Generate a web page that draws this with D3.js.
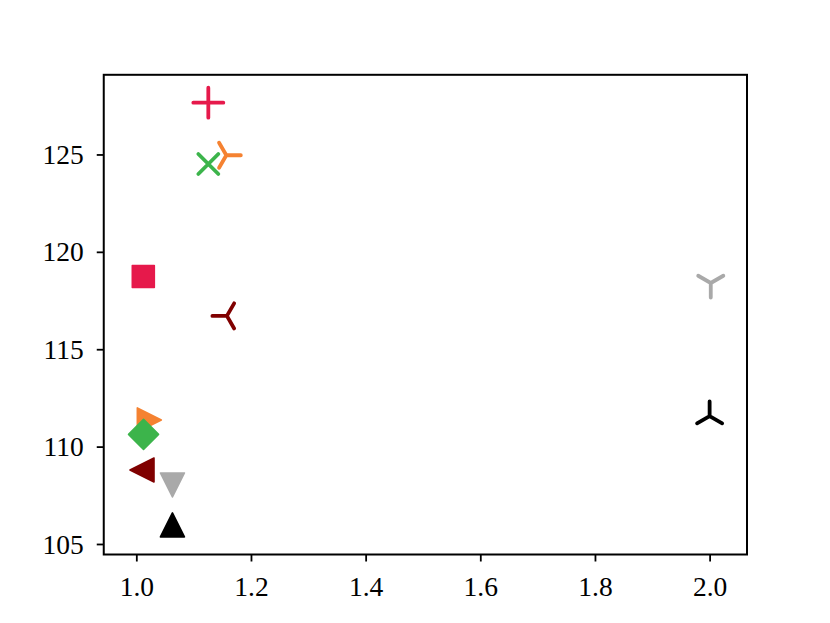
<!DOCTYPE html>
<html>
<head>
<meta charset="utf-8">
<script src="https://cdn.jsdelivr.net/npm/d3@7"></script>
<style>
  html, body { margin: 0; padding: 0; background: #fff; }
  svg { display: block; }
  .tick text { font-family: "Liberation Serif", "DejaVu Serif", serif; }
</style>
</head>
<body>
<svg id="chart" width="830" height="623"></svg>
<script>
// ---- data ----
const xValues = [1.1256, 1.0122, 1.157, 1.0227, 1.1256, 1.0126, 1.158, 1.0099, 2.002, 1.063, 2.0, 1.063];
const yValues = [127.66, 118.73, 124.96, 111.37, 124.51, 110.63, 116.71, 108.80, 118.40, 108.03, 111.57, 105.98];
const markers = ["plus", "square", "tri_right", "triangle_right", "x", "diamond", "tri_left", "triangle_left", "tri_down", "triangle_down", "tri_up", "triangle_up"];
const colors  = ["#e6194b", "#e6194b", "#f58231", "#f58231", "#3cb44b", "#3cb44b", "#800000", "#800000", "#a9a9a9", "#a9a9a9", "#000000", "#000000"];
const xTicks = [1.0, 1.2, 1.4, 1.6, 1.8, 2.0];
const yTicks = [105, 110, 115, 120, 125];
const xDomain = [0.9432, 2.0652];
const yDomain = [104.46, 129.09];

// ---- layout ----
const L = 103.75, R = 747, T = 74.8, B = 554.5;
const svg = d3.select("#chart");
const x = d3.scaleLinear().domain(xDomain).range([L, R]);
const y = d3.scaleLinear().domain(yDomain).range([B, T]);

// axes
const xAxis = d3.axisBottom(x).tickValues(xTicks).tickFormat(d3.format(".1f")).tickSize(7).tickPadding(8);
const yAxis = d3.axisLeft(y).tickValues(yTicks).tickFormat(d3.format("d")).tickSize(7).tickPadding(13);

const gx = svg.append("g").attr("transform", `translate(0,${B})`).call(xAxis);
const gy = svg.append("g").attr("transform", `translate(${L},0)`).call(yAxis);
[gx, gy].forEach(g => {
  g.select(".domain").remove();
  g.selectAll(".tick line").attr("stroke", "#000").attr("stroke-width", 1.8);
  g.selectAll(".tick text").attr("fill", "#000").style("font-size", "27.5px");
});
gx.selectAll(".tick text").attr("dy", "0.95em");
gy.selectAll(".tick text").attr("dy", "0.33em");

// marker shapes (pixel sizes)
const TRI = 14.5, S = 0.8660254;
function triPath(kind) {
  let pts;
  if (kind === "tri_down") pts = [[0, TRI], [-S * TRI, -0.5 * TRI], [S * TRI, -0.5 * TRI]];
  else if (kind === "tri_up") pts = [[0, -TRI], [-S * TRI, 0.5 * TRI], [S * TRI, 0.5 * TRI]];
  else if (kind === "tri_right") pts = [[TRI, 0], [-0.5 * TRI, -S * TRI], [-0.5 * TRI, S * TRI]];
  else pts = [[-TRI, 0], [0.5 * TRI, -S * TRI], [0.5 * TRI, S * TRI]];
  return pts.map(p => `M0,0L${p[0]},${p[1]}`).join("");
}
const H = 12;   // half size of filled triangles
const SQ = 11;  // half side of square
const DH = 15;  // half diagonal of diamond
function shape(kind) {
  switch (kind) {
    case "plus": return { d: "M-15,0L15,0M0,-15L0,15", fill: false };
    case "x": return { d: "M-10,-10L10,10M-10,10L10,-10", fill: false };
    case "square": return { d: `M${-SQ},${-SQ}L${SQ},${-SQ}L${SQ},${SQ}L${-SQ},${SQ}Z`, fill: true };
    case "diamond": return { d: `M0,${-DH}L${DH},0L0,${DH}L${-DH},0Z`, fill: true };
    case "triangle_up": return { d: `M0,${-H}L${H},${H}L${-H},${H}Z`, fill: true };
    case "triangle_down": return { d: `M0,${H}L${H},${-H}L${-H},${-H}Z`, fill: true };
    case "triangle_right": return { d: `M${H},0L${-H},${-H}L${-H},${H}Z`, fill: true };
    case "triangle_left": return { d: `M${-H},0L${H},${-H}L${H},${H}Z`, fill: true };
    default: return { d: triPath(kind), fill: false };
  }
}

const pts = xValues.map((v, i) => ({ x: v, y: yValues[i], m: markers[i], c: colors[i] }));
const plot = svg.append("g");
plot.selectAll("path.mk").data(pts).join("path")
  .attr("class", "mk")
  .attr("transform", d => `translate(${x(d.x)},${y(d.y)})`)
  .attr("d", d => shape(d.m).d)
  .attr("fill", d => shape(d.m).fill ? d.c : "none")
  .attr("stroke", d => d.c)
  .attr("stroke-width", d => shape(d.m).fill ? 1.6 : 3.8)
  .attr("stroke-linecap", "round")
  .attr("stroke-linejoin", "round");

// frame
svg.append("rect")
  .attr("x", L).attr("y", T).attr("width", R - L).attr("height", B - T)
  .attr("fill", "none").attr("stroke", "#000").attr("stroke-width", 2);
</script>
</body>
</html>
